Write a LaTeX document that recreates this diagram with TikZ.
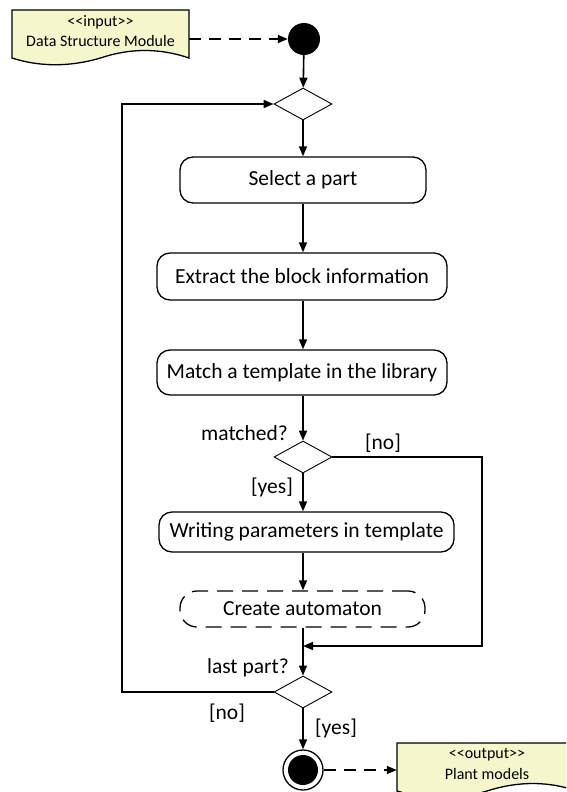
\documentclass[tikz,border=0pt]{standalone}
\usepackage{fontspec}
\setmainfont{Carlito}[Ligatures=TeXOff]
\usetikzlibrary{arrows.meta,shapes.geometric,calc}
\definecolor{docyellow}{RGB}{246,246,204}
\begin{document}
\begin{tikzpicture}[x=1pt,y=-1pt,
  act/.style={draw,rounded corners=13pt,line width=1.3pt,font=\fontsize{21.5}{24}\selectfont,inner sep=0pt},
  dec/.style={draw,diamond,line width=0.9pt,minimum width=58pt,minimum height=32pt,inner sep=0pt},
  flow/.style={line width=1.6pt,-{Triangle[length=10pt,width=8pt]}},
  dashflow/.style={flow,dash pattern=on 12pt off 8pt},
  lbl/.style={font=\fontsize{21.5}{24}\selectfont,inner sep=0pt},
  doctext/.style={font=\fontsize{16}{18}\selectfont,inner sep=0pt},
  docf/.style={fill=docyellow,draw,line width=1.3pt}
]
\useasboundingbox (0,0) rectangle (566,792);
\clip (0,0) rectangle (566,792);

% input document
\draw[docf] (12,10) -- (189,10) -- (189,58) .. controls (160,48) and (130,48) .. (100.5,58) .. controls (70,67) and (40,67) .. (12,58) -- cycle;
\node[minimum width=177pt,minimum height=48pt,inner sep=0pt] (in) at (100.5,34) {};
\node[doctext] (intitle) at (100.5,22) {<<input>>};
\node[doctext] (inname) at (100.5,41) {Data Structure Module};

% output document
\draw[docf] (397,743) -- (577,743) -- (577,791) .. controls (548,781) and (518,781) .. (487,791) .. controls (457,800) and (427,800) .. (397,791) -- cycle;
\node[minimum width=180pt,minimum height=48pt,inner sep=0pt] (out) at (487,767) {};
\node[doctext] (outtitle) at (487,755) {<<output>>};
\node[doctext] (outname) at (487,774) {Plant models};

% nodes
\node[circle,fill,minimum size=32pt,inner sep=0pt] (start) at (304,39) {};
\node[dec] (d1) at (303,104) {};
\node[act,minimum width=246pt,minimum height=46pt] (sel) at (303,180) {Select a part};
\node[act,minimum width=290pt,minimum height=47pt] (ext) at (302,276.5) {Extract the block information};
\node[act,minimum width=290pt,minimum height=45pt] (mat) at (302,372.5) {Match a template in the library};
\node[dec] (d2) at (303,457) {};
\node[act,minimum width=295pt,minimum height=40pt] (wri) at (306.5,532) {Writing parameters in template};
\node[act,dash pattern=on 16pt off 9pt,rounded corners=17pt,minimum width=245pt,minimum height=36pt] (cre) at (302.5,609) {Create automaton};
\node[dec] (d3) at (303,692) {};
\node[circle,draw,line width=1.3pt,minimum size=40pt,inner sep=0pt] (end) at (303,770) {};
\node[circle,fill,minimum size=30pt,inner sep=0pt] (endin) at (end) {};

\coordinate (nocorner) at (482,457);
\coordinate (merge) at (303,646);
\coordinate (loopx) at (122,0);

% connectors
\draw[dashflow] (start -| in.east) -- (start.west);
\draw[flow] (start) -- (d1);
\draw[flow] (d1) -- (d1 |- sel.north);
\draw[flow] (sel.south -| d1) -- (d1 |- ext.north);
\draw[flow] (ext.south -| d1) -- (d1 |- mat.north);
\draw[flow] (mat.south -| d1) -- (d2);
\draw[flow] (d2) -- (d2 |- wri.north);
\draw[flow] (wri.south -| d2) -- (d2 |- cre.north);
\draw[flow] (cre.south -| d2) -- (d3);
\draw[flow] (d2.east) -- (nocorner) |- (merge);
\draw[flow] (d3.west) -- (d3.west -| loopx) |- (d1.west);
\draw[flow] (d3) -- (end);
\draw[dashflow] (end.east) -- (end -| out.west);

% labels
\node[lbl,anchor=east] (lmatched) at (288,433) {matched?};
\node[lbl] (lno1) at (383,443) {[no]};
\node[lbl] (lyes1) at (272,487) {[yes]};
\node[lbl,anchor=east] (llast) at (289,668) {last part?};
\node[lbl] (lno2) at (227,713) {[no]};
\node[lbl] (lyes2) at (336,728) {[yes]};
\end{tikzpicture}
\end{document}
